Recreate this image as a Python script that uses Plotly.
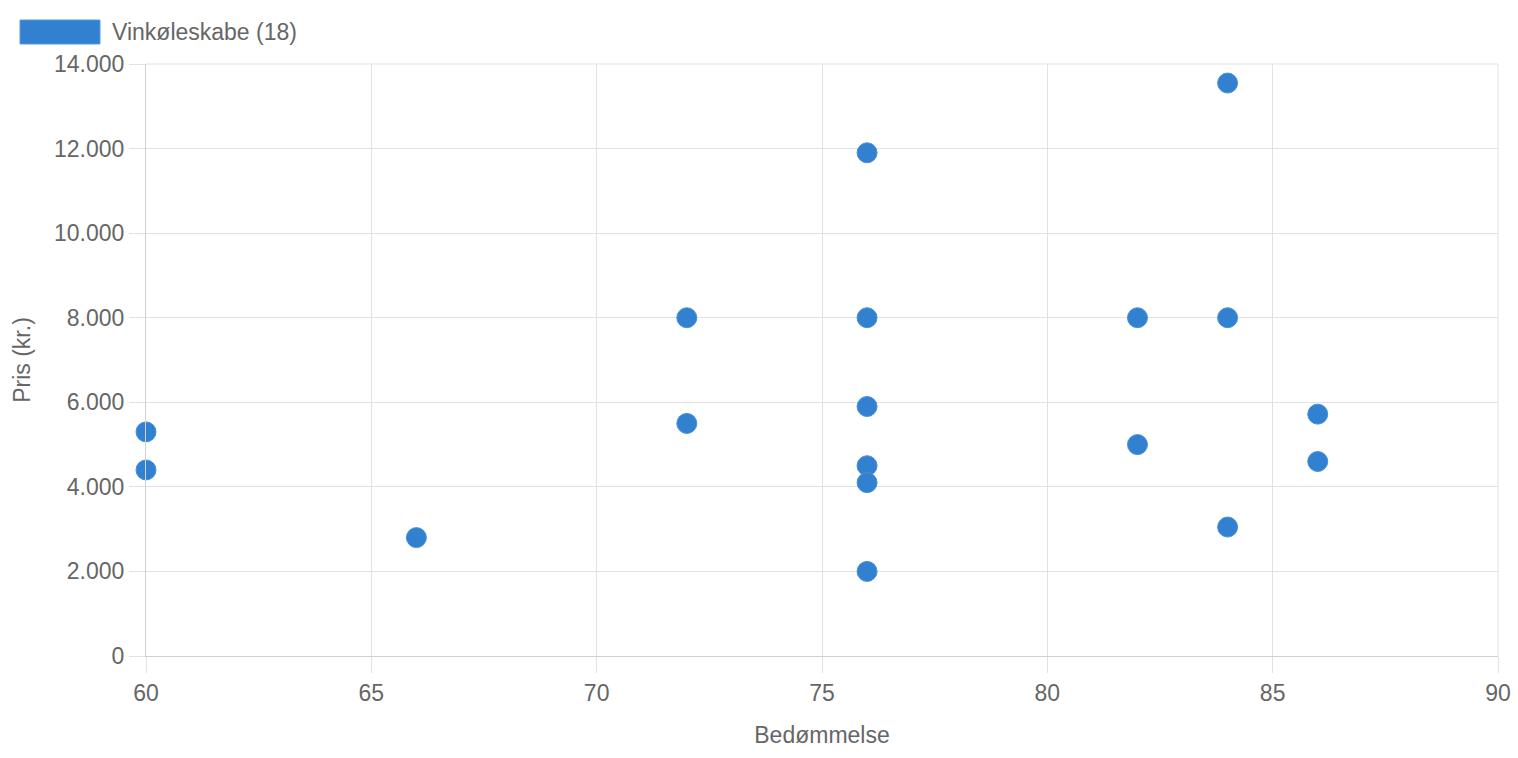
import plotly.graph_objects as go

series_name = "Vinkøleskabe"
rating = [60, 60, 66, 72, 72, 76, 76, 76, 76, 76, 76, 82, 82, 84, 84, 84, 86, 86]
price = [5300, 4400, 2800, 8000, 5500, 11900, 8000, 5900, 4500, 4100, 2000,
         8000, 5000, 13550, 8000, 3050, 5720, 4600]
x_ticks = [60, 65, 70, 75, 80, 85, 90]
y_ticks = [0, 2000, 4000, 6000, 8000, 10000, 12000, 14000]

blue = "#3181d0"
grid = "#e2e2e2"
font = "Liberation Sans, Arial, Helvetica, sans-serif"
fs = 23

W, H = 1518, 758
L, R, T, B = 146, 20, 64, 102
pw, ph = W - L - R, H - T - B

def px2x(px):
    return (px - L) / pw

def px2y(py):
    return (H - B - py) / ph

fig = go.Figure()
fig.add_trace(go.Scatter(
    x=rating, y=price, mode="markers", name=series_name,
    marker=dict(size=20, color=blue, line=dict(width=1, color="#4a90d9")),
    showlegend=False, cliponaxis=False,
))

fig.update_layout(
    width=W, height=H,
    margin=dict(l=L, r=R, t=T, b=B, pad=0, autoexpand=False),
    paper_bgcolor="white", plot_bgcolor="white",
    separators=",.",
    font=dict(family=font, size=fs, color="#666"),
    xaxis=dict(
        range=[60, 90], tickvals=x_ticks, showgrid=True, gridcolor=grid, gridwidth=1,
        zeroline=False, showline=True, linecolor="#d0d0d0", linewidth=1, mirror=False,
        ticks="outside", ticklen=16, tickcolor=grid, tickwidth=1, automargin=False,
        tickfont=dict(size=fs, color="#666", family=font),
        title=dict(text="Bedømmelse", font=dict(size=fs, color="#666", family=font), standoff=22),
    ),
    yaxis=dict(
        range=[0, 14000], tickvals=y_ticks, tickformat=",d", showgrid=True, gridcolor=grid,
        gridwidth=1, zeroline=False, showline=True, linecolor="#d0d0d0", linewidth=1,
        ticks="outside", ticklen=16, tickcolor=grid, tickwidth=1, automargin=False,
        tickfont=dict(size=fs, color="#666", family=font),
        title=dict(text="Pris (kr.)", font=dict(size=fs, color="#666", family=font), standoff=16),
    ),
)

# right and top borders (chart.js draws the edge grid lines)
fig.add_shape(type="line", xref="paper", yref="paper", x0=1, x1=1, y0=0, y1=1,
              line=dict(color=grid, width=1))
fig.add_shape(type="line", xref="paper", yref="paper", x0=0, x1=1, y0=1, y1=1,
              line=dict(color=grid, width=1))

# legend box (chart.js style)
fig.add_shape(type="rect", xref="paper", yref="paper",
              x0=px2x(20), x1=px2x(100), y0=px2y(44), y1=px2y(20),
              fillcolor=blue, line=dict(color="#5a9be0", width=1))
fig.add_annotation(xref="paper", yref="paper", x=px2x(110), y=px2y(32),
                   xanchor="left", yanchor="middle", showarrow=False,
                   text=f"{series_name} ({len(rating)})",
                   font=dict(size=fs, color="#666", family=font))

fig.write_html("out.html")
